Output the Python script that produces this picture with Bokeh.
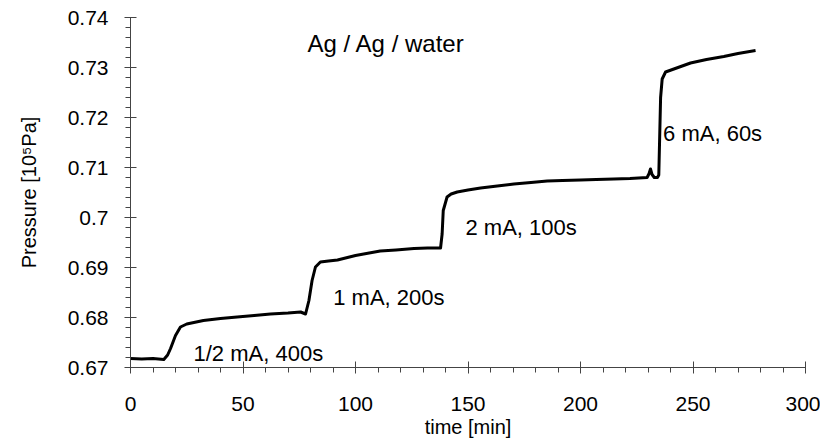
from bokeh.plotting import figure
from bokeh.models import SingleIntervalTicker, CustomJSTickFormatter, Range1d
from bokeh.core.properties import value
from bokeh.embed import file_html
from bokeh.resources import INLINE

# ---- data ----
time_min = [0, 5, 10, 14.8, 16.5, 17.8, 20, 22.2, 25, 32.4, 40, 47.4, 55, 62.2,
            70, 75.6, 77.8, 79.3, 80.7, 82.2, 84.4, 88, 92, 100, 111, 118, 126,
            132, 137.8, 138.5, 139, 140.7, 142.5, 145.2, 150, 155.6, 163, 170.4,
            178, 185.2, 192, 200, 207, 214.8, 222, 229.6, 230.5, 231.1, 231.8,
            232.8, 234.2, 234.8, 235.6, 236.3, 237.8, 241.5, 248.9, 256, 263.7,
            270, 277.8]
pressure = [0.6718, 0.6717, 0.6718, 0.6716, 0.6725, 0.6738, 0.6764, 0.6781,
            0.6787, 0.6794, 0.6798, 0.6801, 0.6804, 0.6807, 0.6809, 0.6811,
            0.6807, 0.6834, 0.6874, 0.6901, 0.6911, 0.6913, 0.6915, 0.6924,
            0.6933, 0.6935, 0.6938, 0.6939, 0.6939, 0.6967, 0.7014, 0.7041,
            0.7047, 0.7051, 0.7055, 0.7059, 0.7063, 0.7067, 0.7070, 0.7073,
            0.7074, 0.7075, 0.7076, 0.7077, 0.7078, 0.7080, 0.7088, 0.7097,
            0.7086, 0.7080, 0.7080, 0.7085, 0.7240, 0.7277, 0.7291, 0.7297,
            0.7309, 0.7316, 0.7322, 0.7328, 0.7334]

annot_text = ["1/2 mA, 400s", "1 mA, 200s", "2 mA, 100s", "6 mA, 60s"]
annot_x = [28.0, 90.1, 148.9, 236.7]
annot_y = [0.67274, 0.68406, 0.69806, 0.71674]

title_text = ["Ag / Ag / water"]
title_x = [78.7]
title_y = [0.73474]

x_label = "time [min]"
y_label = "Pressure [10\u2075Pa]"

FONT = "Liberation Sans"

p = figure(frame_width=675, frame_height=350,
           x_range=Range1d(0, 300), y_range=Range1d(0.67, 0.74),
           output_backend="svg", toolbar_location=None,
           min_border_left=130, min_border_right=15,
           min_border_top=17, min_border_bottom=78)
p.outline_line_color = None
p.xgrid.visible = False
p.ygrid.visible = False
p.background_fill_color = "white"
p.border_fill_color = "white"

p.line(time_min, pressure, line_color="black", line_width=3, line_join="round")

p.text(annot_x, annot_y, text=annot_text, text_font=value(FONT),
       text_font_size="22px", text_color="black", text_baseline="alphabetic",
       text_align="left")
p.text(title_x, title_y, text=title_text, text_font=value(FONT),
       text_font_size="24px", text_color="black", text_baseline="alphabetic",
       text_align="left")

AX = "#444444"
for ax in (p.xaxis[0], p.yaxis[0]):
    ax.axis_line_color = AX
    ax.major_tick_line_color = AX
    ax.minor_tick_line_color = AX
    ax.major_tick_in = 6
    ax.major_tick_out = 6
    ax.minor_tick_in = 0
    ax.minor_tick_out = 5
    ax.major_label_text_font = FONT
    ax.major_label_text_font_size = "21px"
    ax.major_label_text_color = "black"
    ax.axis_label_text_font = FONT
    ax.axis_label_text_font_size = "20px"
    ax.axis_label_text_font_style = "normal"
    ax.axis_label_text_color = "black"

p.xaxis[0].ticker = SingleIntervalTicker(interval=50, num_minor_ticks=5)
p.yaxis[0].ticker = SingleIntervalTicker(interval=0.01, num_minor_ticks=5)
p.yaxis[0].formatter = CustomJSTickFormatter(
    code="return tick.toFixed(2).replace(/0$/, '');")
p.xaxis[0].axis_label = x_label
p.yaxis[0].axis_label = y_label
p.xaxis[0].major_label_standoff = 23
p.xaxis[0].axis_label_standoff = 2
p.yaxis[0].major_label_standoff = 16
p.yaxis[0].axis_label_standoff = 25

open("out.html", "w").write(file_html(p, INLINE))
